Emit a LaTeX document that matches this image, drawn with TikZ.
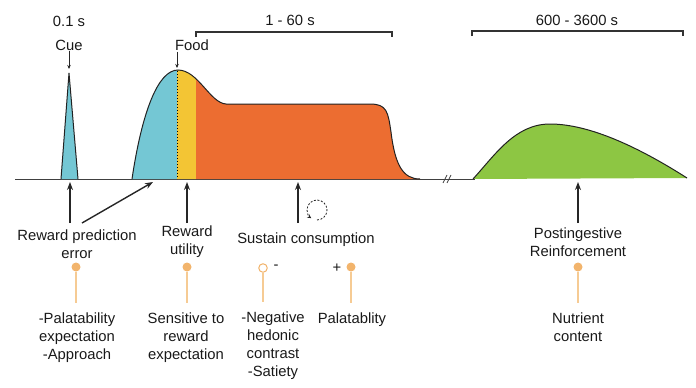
\documentclass[tikz,border=0pt]{standalone}
\usepackage{fontspec}
\setmainfont{Liberation Sans}
\usetikzlibrary{arrows.meta}
\definecolor{cyanf}{HTML}{74C7D4}
\definecolor{yellowf}{HTML}{F3C534}
\definecolor{orangef}{HTML}{EC6D31}
\definecolor{greenf}{HTML}{8DC643}
\definecolor{lolline}{HTML}{F6CB94}
\definecolor{loldot}{HTML}{F2B46C}
\definecolor{outl}{HTML}{222222}
\tikzset{
  lbl/.style={font=\fontsize{14.8}{18}\selectfont, align=center, inner sep=0pt, text=black!90},
  arr/.style={-{Stealth[length=8pt,width=6pt]}, line width=1.4pt, black!85},
  smallarr/.style={-{Stealth[length=4pt,width=3.5pt]}, line width=0.7pt, black!85},
  lolli/.style={line width=1.8pt, lolline},
  curveout/.style={line width=1pt, outl},
  brack/.style={line width=1.1pt, black!80},
}
\begin{document}
\begin{tikzpicture}[x=1pt,y=-1pt]
\useasboundingbox (0,0) rectangle (696,388);
% axis
\draw[line width=1pt, black!75] (15,179) -- (475,179);
\draw[line width=0.8pt, black!75] (443,183) -- (447,175) (447,183) -- (451,175);
% cue spike
\filldraw[fill=cyanf, draw=outl, line width=1pt] (61,179) -- (69,73) -- (78,179);
% food hump
\def\hump{(132,179) .. controls (142,112) and (158,70) .. (178,70) .. controls (198,70) and (210,103) .. (226,104) -- (370,104) .. controls (387,104) and (388,112) .. (391,132) .. controls (395,165) and (403,179) .. (420,179) -- cycle}
\begin{scope}
\clip \hump;
\fill[cyanf] (120,60) rectangle (177,180);
\fill[yellowf] (177,60) rectangle (196,180);
\fill[orangef] (196,60) rectangle (430,180);
\end{scope}
\draw[curveout] (132,179) .. controls (142,112) and (158,70) .. (178,70) .. controls (198,70) and (210,103) .. (226,104) -- (370,104) .. controls (387,104) and (388,112) .. (391,132) .. controls (395,165) and (403,179) .. (420,179);
\draw[dotted, line width=1pt, black] (177,71) -- (177,179);
% green hump
\fill[greenf] (473,179) .. controls (495,155) and (515,124) .. (550,124) .. controls (590,124) and (640,148) .. (687,178) -- cycle;
\draw[curveout] (473,179) .. controls (495,155) and (515,124) .. (550,124) .. controls (590,124) and (640,148) .. (687,178);
% top labels
\node[lbl] (t01) at (69,21) {0.1 s};
\node[lbl] (cue) at (69,45) {Cue};
\node[lbl] (food) at (192,45) {Food};
\coordinate (cuetip) at (69,69);
\coordinate (foodtip) at (177,68);
\draw[smallarr] (cue.south) ++(0,1) coordinate (cs) -- (cuetip);
\draw[smallarr] (food.south -| foodtip) ++(0,1) -- (foodtip);
% brackets
\node[lbl] (b1) at (290,20) {1 - 60 s};
\node[lbl] (b2) at (577,20) {600 - 3600 s};
\draw[brack] (196,37) -- (196,32) -- (392,32) -- (392,37);
\draw[brack] (472,36) -- (472,31) -- (683,31) -- (683,36);
% bottom labels
\node[lbl] (rpe) at (77,244) {Reward prediction\\error};
\node[lbl] (ru) at (187,242) {Reward\\utility};
\node[lbl] (sc) at (306,240) {Sustain consumption};
\node[lbl] (pr) at (578,242) {Postingestive\\Reinforcement};
\coordinate (a1) at (70,182);
\coordinate (a2) at (153,182);
\coordinate (a3) at (187,182);
\coordinate (a4) at (298,182);
\coordinate (a5) at (578,182);
\draw[arr] (70,223) -- (a1);
\draw[arr] (82,223) -- (a2);
\draw[arr] (187,223) -- (a3);
\draw[arr] (298,223) -- (a4);
\draw[arr] (578,223) -- (a5);
% dashed circular arrow
\draw[line width=0.8pt, black!85, dash pattern=on 2pt off 1.6pt, -{Stealth[length=4pt,width=4pt]}] (317,220) arc[start angle=90, end angle=-235, radius=10];
% lollipops
\foreach \n/\x in {l1/76, l2/187, l4/351, l5/578} {
  \node[circle, fill=loldot, inner sep=0pt, minimum size=9pt] (\n) at (\x,267) {};
  \draw[lolli] (\n.south) -- (\x,303);
}
\node[circle, draw=loldot, fill=white, line width=1pt, inner sep=0pt, minimum size=8.5pt] (l3) at (263,268) {};
\draw[lolli] (l3.south) -- (263,302);
\node[lbl] (minus) at (276,267) {-};
\node[lbl] (plus) at (337,268) {+};
% bottom texts
\node[lbl] (pal) at (77,338) {-Palatability\\expectation\\-Approach};
\node[lbl] (sens) at (186,338) {Sensitive to\\reward\\expectation};
\node[lbl] (neg) at (273,346) {-Negative\\hedonic\\contrast\\-Satiety};
\node[lbl] (palb) at (352,320) {Palatablity};
\node[lbl] (nut) at (578,327) {Nutrient\\content};
\end{tikzpicture}
\end{document}
